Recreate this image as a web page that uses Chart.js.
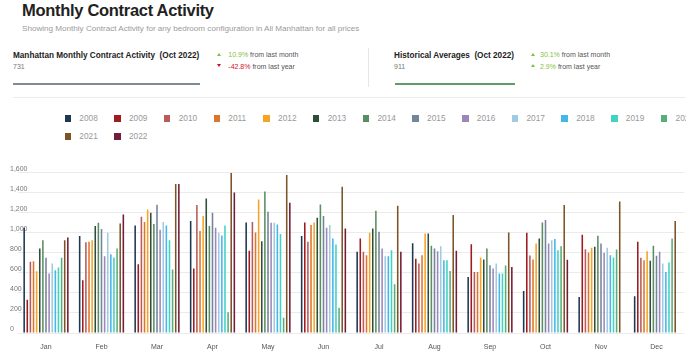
<!DOCTYPE html>
<html>
<head>
<meta charset="utf-8">
<script src="https://cdn.jsdelivr.net/npm/chart.js"></script>
<style>
  body {
    margin: 0;
    width: 700px;
    height: 364px;
    overflow: hidden;
    background: #fff;
    position: relative;
    font-family: "Liberation Sans", Arial, sans-serif;
  }
  .t { position: absolute; white-space: nowrap; line-height: 1; }
  #title { left: 22px; top: 2.3px; font-size: 16.5px; font-weight: bold; color: #222; letter-spacing: -0.3px; }
  #subtitle { left: 22px; top: 25.3px; font-size: 8.1px; color: #9a9a9a; }
  .stat-title { font-size: 8.2px; font-weight: bold; color: #222; }
  .stat-value { font-size: 7px; color: #777; }
  .bar { position: absolute; height: 2.8px; }
  .chg { font-size: 7px; color: #555; }
  .up, .down { position: absolute; width: 0; height: 0; border-left: 2.2px solid transparent; border-right: 2.2px solid transparent; }
  .up { border-bottom: 3.8px solid #7fbf3f; }
  .down { border-top: 3.8px solid #d0102a; }
  .g { color: #7fbf3f; }
  .r { color: #d0102a; }
  #legendWrap { position: absolute; left: 0; top: 109.2px; width: 686px; height: 40px; overflow: hidden; }
  #legend { position: absolute; left: 64.5px; top: 0; width: 655px; display: flex; flex-wrap: wrap; }
  #legend .item { width: 49.7px; height: 18.2px; display: flex; align-items: center; font-size: 8.3px; color: #999; white-space: nowrap; }
  #legend .item i { width: 6.5px; height: 6.5px; margin-right: 8.3px; flex: none; }
  #chartBox { position: absolute; left: 0; top: 150px; width: 700px; height: 214px; }
</style>
</head>
<body>
<div class="t" id="title">Monthly Contract Activity</div>
<div class="t" id="subtitle">Showing Monthly Contract Activity for any bedroom configuration in All Manhattan for all prices</div>

<div class="t stat-title" style="left:13px; top:52px">Manhattan Monthly Contract Activity&nbsp;&nbsp;(Oct 2022)</div>
<div class="t stat-value" style="left:13px; top:63.3px">731</div>
<div class="bar" style="left:13.3px; top:82.7px; width:186.7px; background:#7d8b99"></div>
<div class="up" style="left:217px; top:52.8px"></div>
<div class="t chg" style="left:228.3px; top:51.3px"><span class="g">10.9%</span> from last month</div>
<div class="down" style="left:217px; top:64.4px"></div>
<div class="t chg" style="left:228.3px; top:62.9px"><span class="r">-42.8%</span> from last year</div>

<div style="position:absolute; left:367.5px; top:48px; width:1px; height:39px; background:#e6e6e6"></div>

<div class="t stat-title" style="left:394px; top:51.7px">Historical Averages&nbsp;&nbsp;(Oct 2022)</div>
<div class="t stat-value" style="left:394px; top:63.3px">911</div>
<div class="bar" style="left:394.5px; top:82.7px; width:120px; background:#5e9c69"></div>
<div class="up" style="left:531px; top:52.8px"></div>
<div class="t chg" style="left:540px; top:51.3px"><span class="g">30.1%</span> from last month</div>
<div class="up" style="left:531px; top:64.4px"></div>
<div class="t chg" style="left:540px; top:62.9px"><span class="g">2.9%</span> from last year</div>

<div style="position:absolute; left:13px; top:97px; width:673px; height:1px; background:#ececec"></div>

<div id="legendWrap"><div id="legend"></div></div>
<div id="chartBox"><canvas id="contractChart"></canvas></div>

<script>
// Contract counts per month, one array per year
const meses = ["Jan", "Feb", "Mar", "Apr", "May", "Jun", "Jul", "Aug", "Sep", "Oct", "Nov", "Dec"];
const years = ["2008", "2009", "2010", "2011", "2012", "2013", "2014", "2015", "2016", "2017", "2018", "2019", "2020", "2021", "2022"];

const y2008 = [1050, 967, 1073, 1117, 1103, 967, 810, 897, 560, 420, 360, 367];
const y2009 = [333, 527, 687, 643, 820, 1103, 943, 740, 887, 1000, 980, 910];
const y2010 = [710, 907, 1160, 1277, 1107, 910, 810, 693, 610, 773, 837, 750];
const y2011 = [717, 910, 1107, 1017, 1003, 1077, 777, 777, 610, 733, 803, 727];
const y2012 = [617, 927, 1233, 1167, 1333, 1103, 1000, 993, 753, 893, 850, 817];
const y2013 = [843, 1067, 1200, 1343, 917, 1150, 1043, 993, 733, 943, 860, 720];
const y2014 = [927, 1100, 1087, 1067, 1413, 1283, 1220, 870, 843, 1103, 970, 870];
const y2015 = [750, 1037, 1280, 1200, 1210, 1167, 1010, 843, 677, 1127, 893, 770];
const y2016 = [593, 767, 1030, 1050, 1100, 1050, 843, 817, 643, 893, 800, 810];
const y2017 = [693, 1000, 1107, 1000, 1100, 1077, 767, 867, 693, 927, 850, 693];
const y2018 = [627, 787, 1073, 973, 1083, 943, 767, 727, 593, 937, 777, 610];
const y2019 = [653, 753, 927, 1073, 987, 883, 827, 727, 593, 827, 753, 703];
const y2020 = [750, 843, 633, 207, 153, 253, 487, 620, 673, 867, 833, 943];
const y2021 = [927, 1093, 1487, 1600, 1577, 1460, 1270, 1177, 1003, 1277, 1313, 1117];
const y2022 = [953, 1183, 1487, 1403, 1300, 1043, 810, 820, 659, 731, null, null];

const valores = [y2008, y2009, y2010, y2011, y2012, y2013, y2014, y2015, y2016, y2017, y2018, y2019, y2020, y2021, y2022];

const colores = [
  "#1d3852", // 2008 navy
  "#9e1b20", // 2009 rojo oscuro
  "#b75b5b", // 2010
  "#dc762e", // 2011
  "#f5a426", // 2012
  "#2f4e37", // 2013
  "#5b8d62", // 2014
  "#72859a", // 2015
  "#9c88b8", // 2016
  "#9fcae2", // 2017
  "#45b6ea", // 2018
  "#41d2c2", // 2019
  "#58ae7b", // 2020
  "#7d5427", // 2021
  "#731d38", // 2022
];

const yTicks = [0, 200, 400, 600, 800, 1000, 1200, 1400, 1600];

Chart.defaults.font.family = '"Liberation Sans", Arial, sans-serif';

document.addEventListener("DOMContentLoaded", function () {
  const ctx = document.getElementById("contractChart").getContext("2d");

  const chart = new Chart(ctx, {
    type: "bar",
    data: {
      labels: meses,
      datasets: years.map(function (year, i) {
        return {
          label: year,
          data: valores[i],
          backgroundColor: colores[i],
          borderWidth: 0,
          barPercentage: 0.5,
          categoryPercentage: 0.843,
        };
      }),
    },
    options: {
      responsive: true,
      maintainAspectRatio: false,
      animation: false,
      locale: "en-US",
      layout: {
        padding: { left: 10, right: 15.75, top: 22.7, bottom: 0 },
      },
      plugins: {
        legend: { display: false },
        tooltip: { enabled: false },
      },
      scales: {
        x: {
          grid: { display: false, drawTicks: false },
          border: { display: false },
          ticks: { color: "#555", font: { size: 7 }, padding: 10 },
          afterFit: function (scale) {
            scale.height = 31;
          },
        },
        y: {
          min: yTicks[0],
          max: yTicks[yTicks.length - 1],
          grid: { color: "#ebebeb", drawTicks: false },
          border: { display: false },
          afterBuildTicks: function (scale) {
            scale.ticks = yTicks.map(function (v) {
              return { value: v };
            });
          },
          ticks: {
            color: "#777",
            font: { size: 7 },
            mirror: true,
            crossAlign: "near",
            labelOffset: -4,
            padding: -8.25,
          },
          afterFit: function (scale) {
            scale.width = 8.25;
          },
        },
      },
    },
  });

  // leyenda en HTML
  const legend = document.getElementById("legend");
  chart.data.datasets.forEach(function (ds) {
    const item = document.createElement("span");
    item.className = "item";
    const box = document.createElement("i");
    box.style.background = ds.backgroundColor;
    item.appendChild(box);
    item.appendChild(document.createTextNode(ds.label));
    legend.appendChild(item);
  });
});
</script>
</body>
</html>
